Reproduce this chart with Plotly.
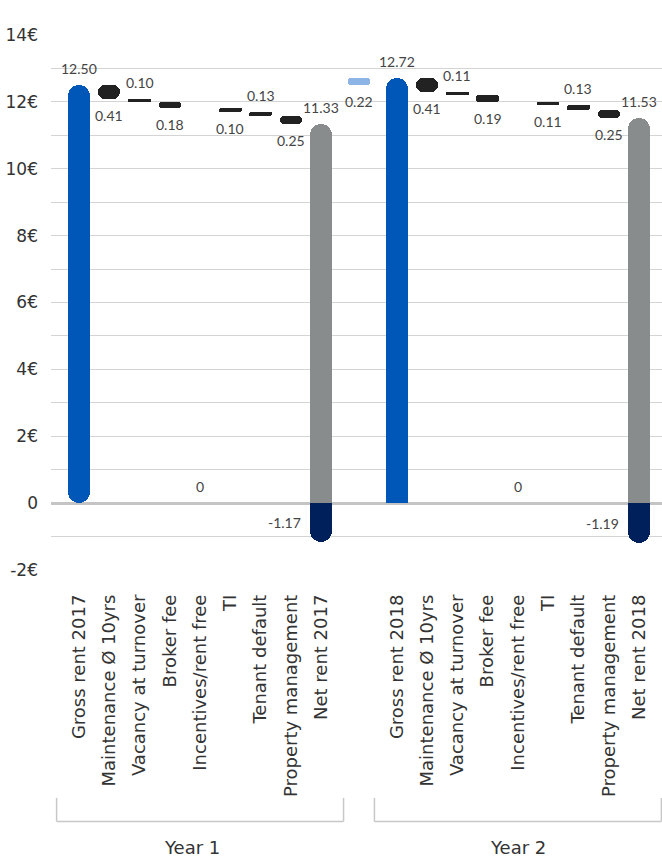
import plotly.graph_objects as go

# ---- data -------------------------------------------------------------
categories_year1 = ["Gross rent 2017", "Maintenance Ø 10yrs", "Vacancy at turnover", "Broker fee",
                    "Incentives/rent free", "TI", "Tenant default", "Property management", "Net rent 2017"]
categories_year2 = ["Gross rent 2018", "Maintenance Ø 10yrs", "Vacancy at turnover", "Broker fee",
                    "Incentives/rent free", "TI", "Tenant default", "Property management", "Net rent 2018"]
group_labels = ["Year 1", "Year 2"]

gross_rent = [12.50, 12.72]
costs_year1 = [0.41, 0.10, 0.18, 0.00, 0.10, 0.13, 0.25]
costs_year2 = [0.41, 0.11, 0.19, 0.00, 0.11, 0.13, 0.25]
net_rent = [11.33, 11.53]
total_costs = [-1.17, -1.19]
rent_increase = 0.22

y_tick_values = [-2, -1, 0, 1, 2, 3, 4, 5, 6, 7, 8, 9, 10, 11, 12, 13, 14]

# ---- style ------------------------------------------------------------
AXIS_FONT = "DejaVu Sans"
VALUE_FONT = "Lato"
BLUE = "#0057b8"
LIGHT_BLUE = "#8cb4e6"
GREY = "#898c8d"
NAVY = "#00205b"
BLACK = "#222222"
TEXT = "#444444"
BAR_W = 0.74
GROUP_GAP = 2.5

fig = go.Figure()
annotations = []


def label(x, y, text, side):
    if side == "above":
        annotations.append(dict(x=x, y=y, xref="x", yref="y", text=text, showarrow=False,
                                yanchor="bottom", yshift=6, font=dict(family=VALUE_FONT, size=14, color=TEXT)))
    else:
        annotations.append(dict(x=x, y=y, xref="x", yref="y", text=text, showarrow=False,
                                yanchor="top", yshift=-6, font=dict(family=VALUE_FONT, size=14, color=TEXT)))


def fmt(v):
    return "0" if v == 0 else f"{v:.2f}"


# floating bars (explicit base -> both ends rounded), grouped by colour
floating = {}


def add_floating(x, lo, hi, color):
    d = floating.setdefault(color, dict(x=[], h=[], base=[]))
    d["x"].append(x)
    d["h"].append(hi - lo)
    d["base"].append(lo)


# bars standing on the zero line (no base -> only the tip rounded)
standing = []  # (x, value, color)

groups = [(categories_year1, costs_year1), (categories_year2, costs_year2)]
tick_vals, tick_text = [], []
group_spans = []
for g, (cats, costs) in enumerate(groups):
    offset = g * (len(cats) - 1 + GROUP_GAP)
    xs = [offset + i for i in range(len(cats))]
    tick_vals += xs
    tick_text += cats
    group_spans.append((xs[0], xs[-1]))

    # gross rent
    if g == 0:
        add_floating(xs[0], 0, gross_rent[g], BLUE)
    else:
        standing.append((xs[0], gross_rent[g], BLUE))
    label(xs[0], gross_rent[g], fmt(gross_rent[g]), "above")

    # cost steps
    level = gross_rent[g]
    for i, c in enumerate(costs):
        x = xs[i + 1]
        side = "below" if i % 2 == 0 else "above"
        if c > 0:
            add_floating(x, level - c, level, BLACK)
            if side == "above":
                label(x, level, fmt(c), "above")
            else:
                label(x, level - c, fmt(c), "below")
        else:
            label(x, 0, fmt(c), "above")
        level -= c

    # net rent and total costs
    standing.append((xs[-1], net_rent[g], GREY))
    label(xs[-1], net_rent[g], fmt(net_rent[g]), "above")
    standing.append((xs[-1], total_costs[g], NAVY))
    annotations.append(dict(x=xs[-1], y=total_costs[g] / 2, xref="x", yref="y",
                            text=f"{total_costs[g]:.2f}", showarrow=False,
                            xanchor="right", xshift=-18,
                            font=dict(family=VALUE_FONT, size=14, color=TEXT)))

# rent increase between the two years
bridge_x = (group_spans[0][1] + group_spans[1][0]) / 2
add_floating(bridge_x, gross_rent[0], gross_rent[0] + rent_increase, LIGHT_BLUE)
label(bridge_x, gross_rent[0], fmt(rent_increase), "below")

for color, d in floating.items():
    fig.add_trace(go.Bar(x=d["x"], y=d["h"], base=d["base"], width=BAR_W,
                         marker=dict(color=color, cornerradius="50%", line=dict(width=0)),
                         hoverinfo="skip", showlegend=False))
for x, val, color in standing:
    fig.add_trace(go.Bar(x=[x], y=[val], width=BAR_W,
                         marker=dict(color=color, cornerradius="50%", line=dict(width=0)),
                         hoverinfo="skip", showlegend=False))

# group brackets and titles under the category labels
shapes = []
for (x0, x1), name, shift in zip(group_spans, group_labels, (-8, 0)):
    a, b = x0 - 0.74, x1 + 0.74
    line = dict(color="#c8c8c8", width=1.5)
    shapes.append(dict(type="line", xref="x", yref="paper", x0=a, x1=a, y0=-0.426, y1=-0.470, line=line))
    shapes.append(dict(type="line", xref="x", yref="paper", x0=b, x1=b, y0=-0.426, y1=-0.470, line=line))
    shapes.append(dict(type="line", xref="x", yref="paper", x0=a, x1=b, y0=-0.470, y1=-0.470, line=line))
    annotations.append(dict(x=(x0 + x1) / 2, y=-0.518, xref="x", yref="paper", text=name,
                            showarrow=False, yanchor="middle", xshift=shift,
                            font=dict(family=AXIS_FONT, size=18, color="#333333")))

y_tick_text = [("0" if v == 0 else f"{v}€") if v % 2 == 0 else "" for v in y_tick_values]

fig.update_layout(
    width=662, height=861,
    margin=dict(l=51, r=0, t=35, b=291),
    paper_bgcolor="white", plot_bgcolor="white",
    barmode="overlay", bargap=0,
    showlegend=False,
    font=dict(family=AXIS_FONT, color="#333333"),
    annotations=annotations,
    shapes=shapes,
    xaxis=dict(range=[-0.925, 19.26], tickmode="array", tickvals=tick_vals, ticktext=tick_text,
               tickangle=-90, ticks="", showgrid=False, zeroline=False, showline=False,
               tickfont=dict(family=AXIS_FONT, size=18, color="#333333"), ticklabelstandoff=20),
    yaxis=dict(range=[-2, 14], tickmode="array", tickvals=y_tick_values, ticktext=y_tick_text,
               showgrid=True, gridcolor="#d4d4d4", gridwidth=1,
               zeroline=True, zerolinecolor="#c4c4c4", zerolinewidth=3,
               ticks="", ticklabelstandoff=12, showline=False,
               tickfont=dict(family=AXIS_FONT, size=17, color="#333333")),
)

fig.write_html("out.html")
